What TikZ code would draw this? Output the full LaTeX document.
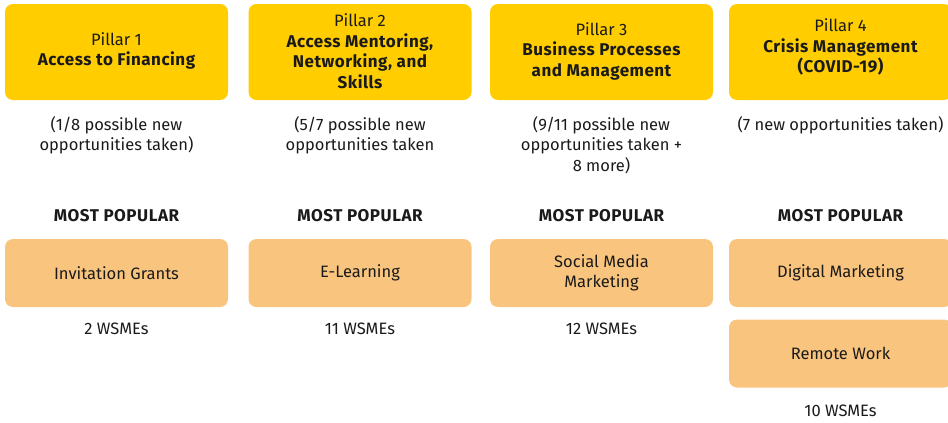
\documentclass[tikz,border=0pt]{standalone}
\usepackage{fontspec}
\setmainfont{Fira Sans}
\newfontfamily\bfam{Fira Sans}[LetterSpace=3]
\newcommand{\bt}[1]{{\bfam\bfseries\fontsize{17}{20.5}\selectfont #1}}
\definecolor{hdryellow}{HTML}{FFCD00}
\definecolor{popor}{HTML}{F9C47E}
\definecolor{ink}{HTML}{1A1A1A}
\begin{document}
\begin{tikzpicture}[x=1pt,y=-1pt,
  txt/.style={font=\fontsize{16.5}{20.5}\selectfont, align=center, inner sep=0pt, text=ink},
  hdr/.style={txt, fill=hdryellow, rounded corners=8pt, minimum width=223pt, minimum height=96pt},
  pop/.style={txt, fill=popor, rounded corners=8pt, minimum width=223pt, minimum height=68pt}]
\useasboundingbox (0,0) rectangle (948,423);
\clip (0,0) rectangle (948,423);
% headers
\node[hdr] (h1) at (116.5,52) {};
\node[hdr] (h2) at (360,52) {};
\node[hdr] (h3) at (601.5,52) {};
\node[hdr] (h4) at (840.5,52) {};
\node[txt] (t1) at ([yshift=1pt]h1.center) {Pillar 1\\\bt{Access to Financing}};
\node[txt] (t2) at ([yshift=1pt]h2.center) {Pillar 2\\\bt{Access Mentoring,}\\\bt{Networking, and}\\\bt{Skills}};
\node[txt] (t3) at ([yshift=1pt]h3.center) {Pillar 3\\\bt{Business Processes}\\\bt{and Management}};
\node[txt] (t4) at ([yshift=5pt]h4.center) {Pillar 4\\\bt{Crisis Management}\\\bt{(COVID-19)}};
% notes
\node[txt, anchor=north] (n1) at (116.5,116) {(1/8 possible new\\opportunities taken)};
\node[txt, anchor=north] (n2) at (360,116) {(5/7 possible new\\opportunities taken};
\node[txt, anchor=north] (n3) at (601.5,116) {(9/11 possible new\\opportunities taken +\\8 more)};
\node[txt, anchor=north] (n4) at (840.5,116) {(7 new opportunities taken)};
% most popular
\node[txt] (m1) at (116.5,216) {\bt{MOST POPULAR}};
\node[txt] (m2) at (360,216) {\bt{MOST POPULAR}};
\node[txt] (m3) at (601.5,216) {\bt{MOST POPULAR}};
\node[txt] (m4) at (840.5,216) {\bt{MOST POPULAR}};
% popular items
\node[pop] (p1) at (116.5,273) {Invitation Grants};
\node[pop] (p2) at (360,273) {E-Learning};
\node[pop] (p3) at (601.5,273) {Social Media\\Marketing};
\node[pop] (p4) at (840.5,273) {Digital Marketing};
\node[pop] (p5) at (840.5,353.5) {Remote Work};
% counts
\node[txt] (c1) at (116.5,329) {2 WSMEs};
\node[txt] (c2) at (360,329) {11 WSMEs};
\node[txt] (c3) at (601.5,329) {12 WSMEs};
\node[txt] (c4) at (840.5,411) {10 WSMEs};
\end{tikzpicture}
\end{document}
